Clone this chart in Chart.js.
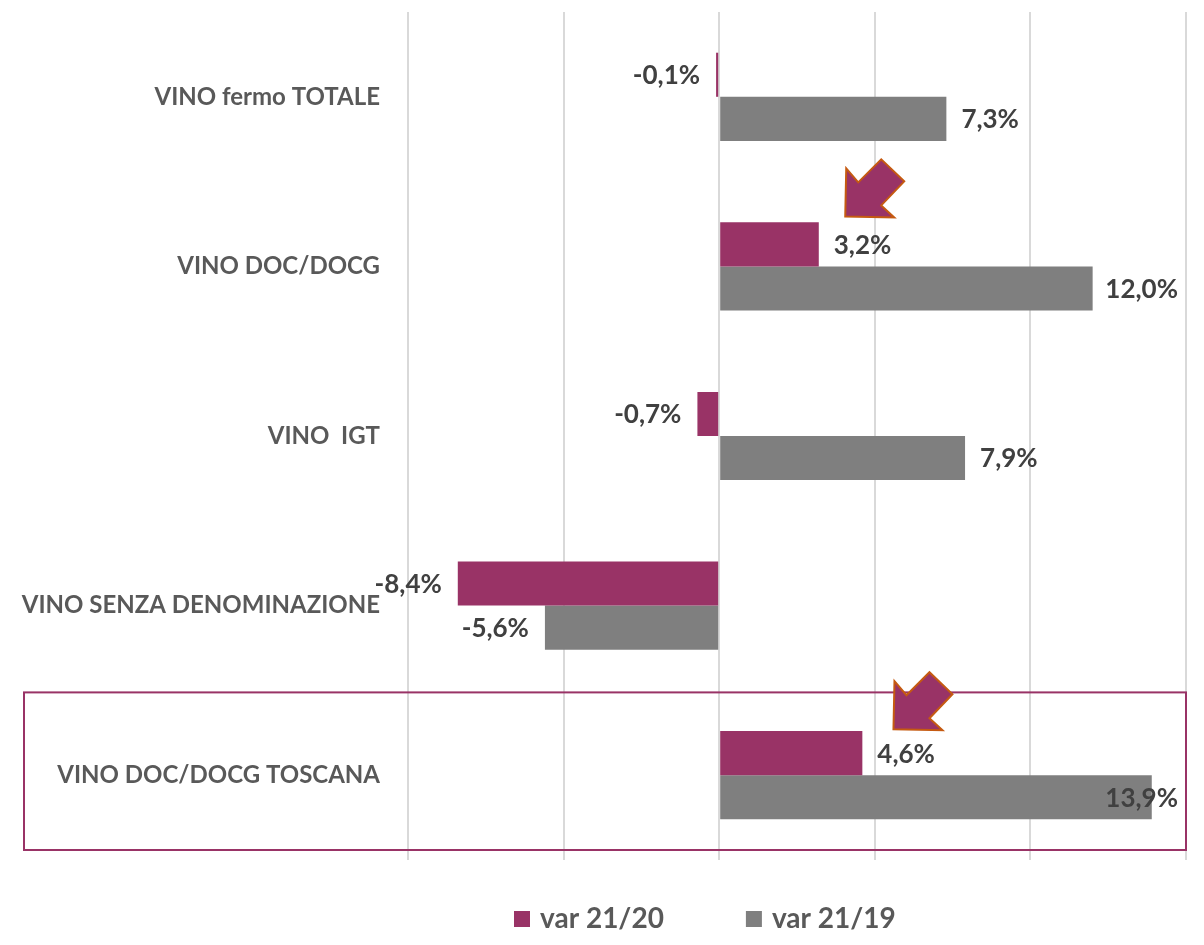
<!DOCTYPE html>
<html>
<head>
<meta charset="utf-8">
<script src="https://cdn.jsdelivr.net/npm/chart.js@4/dist/chart.umd.min.js"></script>
<style>
  html, body { margin: 0; padding: 0; background: #fff; }
  #wrap { width: 1204px; height: 945px; }
</style>
</head>
<body>
<div id="wrap"><canvas id="chart-var-vino"></canvas></div>
<script>
var categories = ['VINO fermo TOTALE', 'VINO DOC/DOCG', 'VINO  IGT', 'VINO SENZA DENOMINAZIONE', 'VINO DOC/DOCG TOSCANA'];
var var2120 = [-0.1, 3.2, -0.7, -8.4, 4.6];
var var2119 = [7.3, 12.0, 7.9, -5.6, 13.9];
var seriesNames = ['var 21/20', 'var 21/19'];

var purple = '#993366', grey = '#7f7f7f', textGrey = '#595959';

function fmt(v) {
	return v.toFixed(1).replace('.', ',') + '%';
}

// value labels at the end of every bar
var valueLabels = {
	id: 'valueLabels',
	afterDatasetsDraw: function(chart) {
		var ctx = chart.ctx, area = chart.chartArea;
		ctx.save();
		ctx.font = 'bold 26px Lato';
		ctx.fillStyle = '#404040';
		ctx.textBaseline = 'middle';
		chart.data.datasets.forEach(function(ds, i) {
			chart.getDatasetMeta(i).data.forEach(function(bar, j) {
				var v = ds.data[j], txt = fmt(v), x;
				if (v >= 0) {
					ctx.textAlign = 'left';
					x = bar.x + 15;
					if (x + ctx.measureText(txt).width > area.right - 8) {
						ctx.textAlign = 'right';
						x = area.right - 8;
					}
				} else {
					ctx.textAlign = 'right';
					x = bar.x - 16;
				}
				ctx.fillText(txt, x, bar.y + 1);
			});
		});
		ctx.restore();
	}
};

// highlight box round the Toscana row and the two arrows
var highlights = {
	id: 'highlights',
	afterDraw: function(chart) {
		var ctx = chart.ctx, xs = chart.scales.x, ys = chart.scales.y;
		var half = (ys.getPixelForValue(1) - ys.getPixelForValue(0)) / 2;
		var cy = ys.getPixelForValue(4);
		ctx.save();
		ctx.strokeStyle = purple;
		ctx.lineWidth = 2;
		ctx.strokeRect(24, cy - half + 2, xs.right - 24, 2 * half - 12);

		var arrow = [[0, 0], [1, -48], [13, -34], [36, -57], [59, -35], [36, -11], [49, 1]];
		[[4.05, 1, -50], [5.6, 4, -46]].forEach(function(a) {
			var tx = xs.getPixelForValue(a[0]), ty = ys.getPixelForValue(a[1]) + a[2];
			ctx.beginPath();
			arrow.forEach(function(p, k) {
				if (k === 0) ctx.moveTo(tx + p[0], ty + p[1]);
				else ctx.lineTo(tx + p[0], ty + p[1]);
			});
			ctx.closePath();
			ctx.fillStyle = purple;
			ctx.fill();
			ctx.strokeStyle = '#c55a11';
			ctx.lineWidth = 2;
			ctx.stroke();
		});
		ctx.restore();
	}
};

// legend under the plot, laid out like the Excel one
var bottomLegend = {
	id: 'bottomLegend',
	afterDraw: function(chart) {
		var ctx = chart.ctx, x = 514, y = 919;
		ctx.save();
		ctx.font = 'bold 28px Lato';
		ctx.textBaseline = 'middle';
		ctx.textAlign = 'left';
		chart.data.datasets.forEach(function(ds) {
			ctx.fillStyle = ds.backgroundColor;
			ctx.fillRect(x, y - 8, 16, 16);
			ctx.fillStyle = textGrey;
			ctx.fillText(ds.label, x + 26, y);
			x += 26 + ctx.measureText(ds.label).width + 82;
		});
		ctx.restore();
	}
};

var el = document.getElementById('chart-var-vino');
var chart = new Chart(el, {
	type: 'bar',
	data: {
		labels: categories,
		datasets: [
			{ label: seriesNames[0], data: var2120, backgroundColor: purple },
			{ label: seriesNames[1], data: var2119, backgroundColor: grey }
		]
	},
	options: {
		indexAxis: 'y',
		responsive: true,
		maintainAspectRatio: false,
		animation: false,
		datasets: { bar: { barPercentage: 1, categoryPercentage: 0.52 } },
		layout: { padding: { top: 12, right: 18, left: 0, bottom: 85 } },
		scales: {
			x: {
				min: -10, max: 15,
				ticks: { display: false, stepSize: 5 },
				grid: { color: '#d9d9d9', lineWidth: 2, drawTicks: false },
				border: { display: false }
			},
			y: {
				grid: { display: false, drawTicks: false },
				border: { display: false },
				ticks: { color: textGrey, font: { family: 'Lato', weight: 'bold', size: 24 }, padding: 28 },
				afterFit: function(scale) {
					scale.width = 408;
					scale.paddingTop = 0;
					scale.paddingBottom = 0;
				}
			}
		},
		plugins: {
			legend: { display: false },
			tooltip: { enabled: false }
		}
	},
	plugins: [valueLabels, highlights, bottomLegend]
});
</script>
</body>
</html>
